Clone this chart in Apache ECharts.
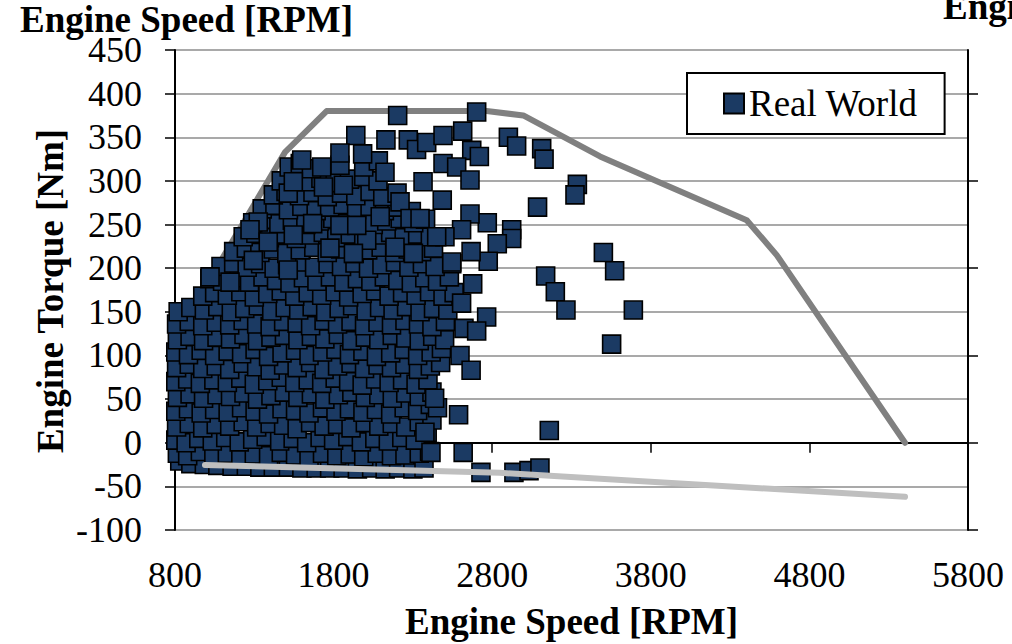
<!DOCTYPE html>
<html><head><meta charset="utf-8">
<script src="https://cdn.jsdelivr.net/npm/echarts@6/dist/echarts.min.js"></script>
<style>html,body{margin:0;padding:0;background:#fff}#c{width:1012px;height:644px}</style>
</head><body><div id="c"></div>
<script>
// ---- axis ranges / labels ----
const xRange = [800, 5800, 1000];
const yRange = [-100, 450, 50];
const rightTicks = [-100, 0, 100, 200, 300, 400];
const titleText = 'Engine Speed [RPM]';
const xName = 'Engine Speed [RPM]';
const yName = 'Engine Torque [Nm]';
const seriesName = 'Real World';

// ---- full-load (max torque) curve ----
const maxRpm    = [1000, 1494, 1756, 2765, 2996, 3480, 3795, 4405, 4594, 5403];
const maxTorque = [181, 333, 380, 380, 375, 328, 303, 255, 215, 0];
// ---- motoring (min torque) curve ----
const minRpm    = [989, 2849, 5403];
const minTorque = [-25.5, -34.5, -62];

// ---- measured operating points (RPM, Nm) ----
const coreLow = [
[830,-21],[900,-24],[985,-25],[1070,-26],[1160,-27],[1250,-27],[1335,-28],[1420,-28],[1515,-28],[1600,-29],[1690,-29],[1775,-29],[1860,-29],[1950,-30],[2040,-29],[2125,-30],[2210,-29],[2300,-30],[2370,-29],
[815,-12],[880,-15],[960,-10],[1045,-14],[1130,-12],[1215,-16],[1300,-13],[1390,-15],[1470,-11],[1560,-14],[1645,-16],[1730,-12],[1820,-15],[1905,-13],[1990,-16],[2075,-12],[2165,-15],[2250,-14],[2340,-12],[2405,-10],
[805,3],[870,0],[950,5],[1035,2],[1120,6],[1205,1],[1290,4],[1375,7],[1460,2],[1545,5],[1630,0],[1715,6],[1800,3],[1890,7],[1975,1],[2060,5],[2145,2],[2230,6],[2315,3],[2390,12],
[810,18],[890,22],[975,17],[1060,21],[1145,19],[1230,24],[1315,18],[1400,22],[1485,20],[1570,16],[1655,23],[1740,19],[1825,21],[1910,17],[2000,23],[2085,19],[2170,22],[2255,18],[2340,24],[2420,26],
[805,36],[885,39],[965,34],[1050,38],[1135,35],[1220,40],[1305,36],[1390,33],[1475,39],[1560,37],[1645,34],[1730,40],[1815,36],[1900,39],[1985,35],[2070,38],[2160,33],[2245,40],[2330,37],[2410,44],[2455,40],
[815,52],[895,56],[980,51],[1065,55],[1150,53],[1235,57],[1320,50],[1405,54],[1490,58],[1575,52],[1660,56],[1745,50],[1830,55],[1915,58],[2000,52],[2085,55],[2170,51],[2255,57],[2340,53],[2420,58],
[805,70],[880,73],[960,68],[1045,72],[1130,69],[1215,74],[1300,67],[1385,71],[1470,75],[1555,69],[1640,72],[1725,68],[1810,74],[1895,70],[1980,66],[2065,73],[2150,69],[2235,72],[2320,67],[2395,72]
];
const coreMid = [
[810,86],[890,90],[975,85],[1060,88],[1145,84],[1230,91],[1315,87],[1400,83],[1485,89],[1570,86],[1655,92],[1740,84],[1825,88],[1910,91],[1995,85],[2080,89],[2165,86],[2250,90],[2335,84],[2410,88],[2475,92],
[805,104],[885,101],[965,106],[1050,100],[1135,105],[1220,102],[1305,107],[1390,99],[1475,103],[1560,106],[1645,100],[1730,104],[1815,107],[1900,101],[1985,105],[2070,99],[2160,103],[2245,107],[2330,100],[2415,104],[2480,108],
[815,118],[895,122],[980,117],[1065,121],[1150,119],[1235,124],[1320,117],[1405,121],[1490,123],[1575,118],[1660,122],[1745,119],[1830,124],[1915,117],[2000,121],[2085,118],[2170,123],[2255,120],[2340,117],[2425,122],[2500,118],
[810,136],[890,139],[975,134],[1060,138],[1145,135],[1230,140],[1315,136],[1400,133],[1485,139],[1570,137],[1655,134],[1740,140],[1825,136],[1910,139],[1995,134],[2080,138],[2165,135],[2250,140],[2335,136],[2420,133],[2505,139],
[820,150],[900,155],[985,152],[1070,156],[1155,150],[1240,154],[1325,157],[1410,151],[1495,155],[1580,152],[1665,156],[1750,150],[1835,154],[1920,157],[2005,151],[2090,155],[2175,152],[2260,156],[2345,150],[2430,154],[2520,152],
[975,168],[1050,172],[1130,169],[1215,173],[1300,167],[1385,171],[1470,174],[1555,168],[1640,172],[1725,169],[1810,173],[1895,167],[1980,171],[2065,174],[2150,168],[2235,172],[2320,169],[2405,173],[2490,168],[2560,172]
];
const coreHigh = [
[1020,188],[1100,185],[1185,189],[1270,184],[1355,190],[1440,186],[1525,183],[1610,189],[1695,185],[1780,190],[1865,184],[1950,188],[2035,185],[2120,190],[2205,186],[2290,183],[2375,189],[2455,185],[2530,190],
[1090,202],[1170,206],[1255,201],[1340,205],[1425,200],[1510,204],[1595,207],[1680,201],[1765,205],[1850,202],[1935,206],[2020,200],[2105,204],[2190,207],[2275,201],[2360,205],[2440,202],[2545,205],
[1170,219],[1250,223],[1335,218],[1420,222],[1505,217],[1590,221],[1675,224],[1760,218],[1845,222],[1930,217],[2015,221],[2100,224],[2185,218],[2270,222],[2355,219],[2430,223],
[1230,236],[1310,240],[1395,235],[1480,239],[1565,234],[1650,238],[1735,241],[1820,235],[1905,239],[1990,234],[2075,238],[2160,241],[2245,235],[2330,239],[2410,236],
[1290,252],[1370,256],[1455,251],[1540,255],[1625,250],[1710,254],[1795,257],[1880,251],[1965,255],[2050,250],[2135,254],[2220,257],[2305,252],[2380,256],
[1350,268],[1430,272],[1515,267],[1600,271],[1690,266],[1775,270],[1860,273],[1945,267],[2030,271],[2120,266],[2200,270],[2290,265],
[1420,284],[1500,288],[1585,283],[1670,287],[1760,282],[1850,286],[1940,283],[2030,288],[2110,282],[2200,286],
[1470,300],[1550,304],[1630,299],[1720,303],[1810,298],[1900,302],[1990,305],[2080,300],
[1520,316],[1590,320],[1660,314],[1840,318],[1990,316],[2082,323],[2124,310]
];
const outliers = [
[2204,375],[2702,379],[1940,352],[2130,347],[2271,347],[2323,336],[2387,344],[2490,352],[2614,357],[2671,335],[2719,328],
[2490,320],[2576,316],[2364,299],[2660,301],[2485,278],[1840,332],[1983,331],[2902,350],[2954,340],[3112,337],[3127,325],
[3337,296],[3322,284],[3086,270],[3501,218],[3572,197],[3137,191],[3198,173],[3265,152],[3690,152],[3553,113],[3160,14],
[2923,244],[2923,234],[2832,228],[2775,208],[2769,252],[2660,262],[2607,244],[2667,219],[2545,207],[2677,182],[2607,160],
[2765,144],[2622,131],[2702,128],[2597,100],[2667,83],[2437,51],[2588,32],[2617,-11],[2414,-11],[2376,12],
[2729,-34],[2937,-34],[3032,-32],[3101,-29],[2219,276],[2282,257],[2345,257],[2502,236],[2450,236],[2303,217],[2187,224],
[2009,232],[1599,324],[1725,316],[1736,293],[1862,295],[1514,286],[1546,299],[2094,259],[1325,253],[1273,244],[1388,230],
[1668,251],[1840,249],[1946,249],[1546,238],[1294,209],[1514,198],[1777,223],[1925,217],[1021,190],[1147,184]
];

const FONT = 'Liberation Serif';
const realWorld = coreLow.concat(coreMid, coreHigh, outliers);
const maxLine = maxRpm.map((r, i) => [r, maxTorque[i]]);
const minLine = minRpm.map((r, i) => [r, minTorque[i]]);
const plain = v => String(v);

const chart = echarts.init(document.getElementById('c'), null, {renderer: 'svg'});
chart.setOption({
  animation: false,
  backgroundColor: '#ffffff',
  grid: {left: 175, right: 44, top: 50, bottom: 114, containLabel: false},
  legend: {
    data: [{name: seriesName, icon: 'rect'}],
    left: 687, top: 73,
    padding: [12, 27, 12, 36],
    itemWidth: 20, itemHeight: 20,
    backgroundColor: '#ffffff', borderColor: '#000000', borderWidth: 2,
    textStyle: {fontFamily: FONT, fontSize: 37, color: '#000'}
  },
  xAxis: [
    {type: 'value', min: xRange[0], max: xRange[1], interval: xRange[2], position: 'bottom',
     axisLine: {show: false, onZero: false}, axisTick: {show: false}, splitLine: {show: false},
     axisLabel: {margin: 27, fontFamily: FONT, fontSize: 36, color: '#000', formatter: plain}},
    {type: 'value', min: xRange[0], max: xRange[1], interval: xRange[2], position: 'bottom',
     axisLine: {show: true, onZero: true, onZeroAxisIndex: 0, lineStyle: {color: '#000', width: 2}},
     axisTick: {show: true, length: 10, lineStyle: {color: '#000', width: 1.5}},
     axisLabel: {show: false}, splitLine: {show: false}}
  ],
  yAxis: [
    {type: 'value', min: yRange[0], max: yRange[1], interval: yRange[2], position: 'left',
     axisLine: {show: true, onZero: false, lineStyle: {color: '#000', width: 2}},
     axisTick: {show: true, length: 10, lineStyle: {color: '#000', width: 1.5}},
     splitLine: {show: true, lineStyle: {color: '#8c8c8c', width: 1.5}},
     axisLabel: {margin: 33, fontFamily: FONT, fontSize: 36, color: '#000', formatter: plain}},
    {type: 'value', min: yRange[0], max: yRange[1], position: 'right',
     axisLine: {show: true, onZero: false, lineStyle: {color: '#000', width: 2}},
     axisTick: {show: true, length: 10, customValues: rightTicks, lineStyle: {color: '#000', width: 1.5}},
     axisLabel: {show: false}, splitLine: {show: false}}
  ],
  series: [
    {name: 'Max', type: 'line', data: maxLine, showSymbol: false, symbol: 'none', z: 1,
     lineStyle: {color: '#808080', width: 6, cap: 'round', join: 'round'}},
    {name: seriesName, type: 'scatter', data: realWorld, symbol: 'rect', symbolSize: 18, z: 2,
     itemStyle: {color: '#1b3a63', borderColor: '#000000', borderWidth: 1.6, opacity: 1}},
    {name: 'Min', type: 'line', data: minLine, showSymbol: false, symbol: 'none', z: 3,
     lineStyle: {color: '#bfbfbf', width: 6, cap: 'round', join: 'round'}}
  ],
  graphic: [
    {type: 'text', left: 20, top: 1, style: {text: titleText, fontFamily: FONT, fontWeight: 'bold', fontSize: 37, fill: '#000'}},
    {type: 'text', left: 943, top: -12, style: {text: titleText, fontFamily: FONT, fontWeight: 'bold', fontSize: 37, fill: '#000'}},
    {type: 'text', x: 571.5, y: 621, style: {text: xName, fontFamily: FONT, fontWeight: 'bold', fontSize: 37, fill: '#000', align: 'center', verticalAlign: 'middle'}},
    {type: 'text', x: 50, y: 291, rotation: Math.PI / 2,
     style: {text: yName, fontFamily: FONT, fontWeight: 'bold', fontSize: 37, fill: '#000', align: 'center', verticalAlign: 'middle'}}
  ]
});
</script></body></html>
